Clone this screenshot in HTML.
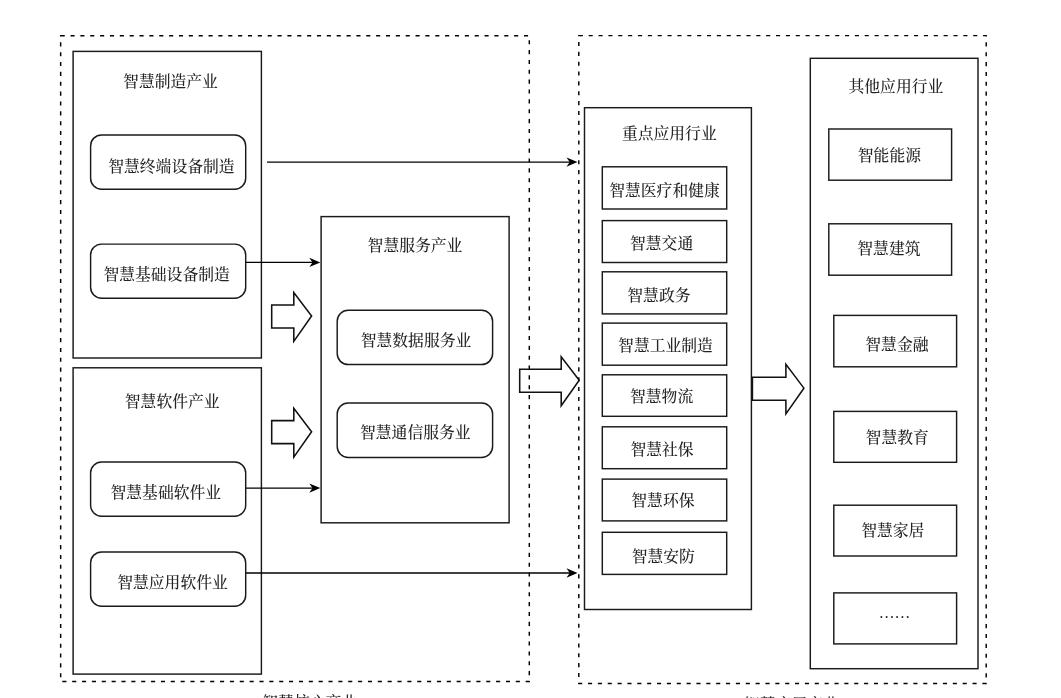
<!DOCTYPE html>
<html lang="zh-CN"><head><meta charset="utf-8"><title>智慧产业结构图</title>
<style>html,body{margin:0;padding:0;background:#fff;overflow:hidden}svg{display:block;will-change:transform}text{font-family:"Liberation Serif", "Noto Serif CJK SC", serif;font-size:15.8px;fill:#242424;font-weight:500}.s{fill:none;stroke:#1a1a1a;stroke-width:1.45}.w{fill:none;stroke:#111;stroke-width:1.55}.d{fill:none;stroke:#000;stroke-width:1.45}.ah{fill:#000;stroke:#000;stroke-width:1;stroke-linejoin:miter}</style></head><body>
<svg width="1061" height="698" viewBox="0 0 1061 698">
<rect x="0" y="0" width="1061" height="698" fill="#fff"/>
<rect class="d" stroke-dasharray="4.1 5.758" x="60.65" y="35.65" width="468.65" height="645.75"/>
<rect class="d" stroke-dasharray="4.1 5.76" x="578.8" y="35.6" width="407.4" height="647.9"/>
<rect class="s" x="73.1" y="51.4" width="188.3" height="306.6"/>
<rect class="s" x="73.1" y="367.8" width="188.3" height="306.3"/>
<rect class="s" x="321.1" y="216.6" width="188" height="306.2"/>
<rect class="s" x="584.5" y="107.7" width="166.9" height="501.8"/>
<rect class="s" x="810.3" y="58.3" width="167.7" height="610.4"/>
<rect class="s" x="90.6" y="134.9" width="155.1" height="54.4" rx="11" ry="11"/>
<rect class="s" x="90.6" y="244.1" width="155.1" height="54.2" rx="11" ry="11"/>
<rect class="s" x="90.6" y="462" width="155.1" height="54.2" rx="11" ry="11"/>
<rect class="s" x="90.6" y="551.9" width="155.1" height="54.4" rx="11" ry="11"/>
<rect class="s" x="337.2" y="310.3" width="155.4" height="54.3" rx="11" ry="11"/>
<rect class="s" x="337.2" y="403" width="155.4" height="54.5" rx="11" ry="11"/>
<rect class="s" x="602.3" y="166.8" width="124.4" height="42.2"/>
<rect class="s" x="602.3" y="220.6" width="124.4" height="41.9"/>
<rect class="s" x="602.3" y="271.8" width="124.4" height="42.1"/>
<rect class="s" x="602.3" y="323.1" width="124.4" height="42.1"/>
<rect class="s" x="602.3" y="374.8" width="124.4" height="41.5"/>
<rect class="s" x="602.3" y="426.8" width="124.4" height="41.9"/>
<rect class="s" x="602.3" y="479.1" width="124.4" height="41.8"/>
<rect class="s" x="602.3" y="532.3" width="124.4" height="42.1"/>
<rect class="s" x="828.8" y="129" width="122.8" height="51.2"/>
<rect class="s" x="828.8" y="223.8" width="122.8" height="51.4"/>
<rect class="s" x="833.8" y="315.4" width="122.8" height="51.4"/>
<rect class="s" x="833.8" y="411.4" width="122.8" height="50.9"/>
<rect class="s" x="833.8" y="505.2" width="122.8" height="50.8"/>
<rect class="s" x="833.8" y="592.9" width="122.8" height="51"/>
<path class="s" style="stroke:#000;stroke-width:1.4" d="M267 162.1H572.5"/><path d="M577.5 162.1L566.5 157.4L569.7 162.1L566.5 166.8Z" fill="#000"/>
<path class="s" style="stroke:#000;stroke-width:1.4" d="M246 262.4H315.3"/><path d="M320.3 262.4L309.3 257.7L312.5 262.4L309.3 267.1Z" fill="#000"/>
<path class="s" style="stroke:#000;stroke-width:1.4" d="M246 488.1H315.3"/><path d="M320.3 488.1L309.3 483.4L312.5 488.1L309.3 492.8Z" fill="#000"/>
<path class="s" style="stroke:#000;stroke-width:1.4" d="M246 573H572.5"/><path d="M577.5 573L566.5 568.3L569.7 573L566.5 577.7Z" fill="#000"/>
<path class="w" style="stroke-linejoin:miter" d="M271.7 304.9H293.8V292.5L311.6 316L293.8 341.4V327.9H271.7Z"/>
<path class="w" style="stroke-linejoin:miter" d="M271.7 420.6H293.8V408.2L311.6 431.7L293.8 457.1V443.6H271.7Z"/>
<path class="w" style="stroke-linejoin:miter" d="M519.7 369.2H561.2V356.8L579.2 380.3L561.2 405.7V392.2H519.7Z"/>
<path class="w" style="stroke-linejoin:miter" d="M752.4 377.15H785.9V364.2L803.9 388.15L785.9 413.85V400.15H752.4Z"/>
<text id="t0" x="170.50" y="87.10" text-anchor="middle">智慧制造产业</text>
<text id="t1" x="171.40" y="171.90" text-anchor="middle">智慧终端设备制造</text>
<text id="t2" x="166.60" y="279.80" text-anchor="middle">智慧基础设备制造</text>
<text id="t3" x="172.20" y="406.80" text-anchor="middle">智慧软件产业</text>
<text id="t4" x="165.80" y="497.60" text-anchor="middle">智慧基础软件业</text>
<text id="t5" x="172.50" y="588.30" text-anchor="middle">智慧应用软件业</text>
<text id="t6" x="415.00" y="250.60" text-anchor="middle">智慧服务产业</text>
<text id="t7" x="416.00" y="345.60" text-anchor="middle">智慧数据服务业</text>
<text id="t8" x="415.30" y="437.50" text-anchor="middle">智慧通信服务业</text>
<text id="t9" x="669.30" y="139.40" text-anchor="middle">重点应用行业</text>
<text id="t10" x="664.50" y="195.80" text-anchor="middle">智慧医疗和健康</text>
<text id="t11" x="661.60" y="248.90" text-anchor="middle">智慧交通</text>
<text id="t12" x="658.90" y="301.00" text-anchor="middle">智慧政务</text>
<text id="t13" x="665.50" y="350.50" text-anchor="middle">智慧工业制造</text>
<text id="t14" x="661.60" y="401.90" text-anchor="middle">智慧物流</text>
<text id="t15" x="662.00" y="455.40" text-anchor="middle">智慧社保</text>
<text id="t16" x="662.90" y="506.30" text-anchor="middle">智慧环保</text>
<text id="t17" x="663.30" y="561.50" text-anchor="middle">智慧安防</text>
<text id="t18" x="895.90" y="92.00" text-anchor="middle">其他应用行业</text>
<text id="t19" x="889.40" y="160.90" text-anchor="middle">智能能源</text>
<text id="t20" x="888.90" y="253.80" text-anchor="middle">智慧建筑</text>
<text id="t21" x="896.90" y="349.90" text-anchor="middle">智慧金融</text>
<text id="t22" x="897.20" y="442.70" text-anchor="middle">智慧教育</text>
<text id="t23" x="892.80" y="536.30" text-anchor="middle">智慧家居</text>
<text id="te" x="894.60" y="618.10" text-anchor="middle">……</text>
<text id="b1" x="262.3" y="708.20">智慧核心产业</text>
<text id="b2" x="744" y="710.30">智慧应用产业</text>
</svg></body></html>
